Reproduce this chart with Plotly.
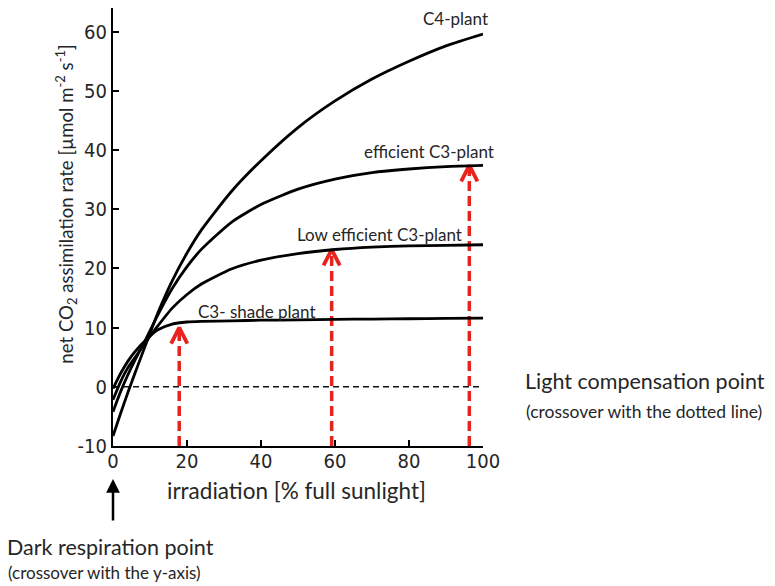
import plotly.graph_objects as go

# ---- data ----
irradiation = [0, 2, 4, 6, 9, 12, 16, 20, 24, 32, 40, 50, 60, 70, 80, 90, 100]
c4_plant = [-8.3, -4.6, -1.0, 2.4, 7.4, 12.3, 17.9, 22.6, 26.6, 33.0, 38.2, 43.8, 48.3, 52.0, 55.0, 57.6, 59.6]
eff_c3 = [-4.2, -0.9, 2.0, 4.6, 8.2, 12.0, 16.6, 20.3, 23.3, 27.8, 30.8, 33.4, 35.1, 36.2, 36.8, 37.2, 37.4]
low_c3 = [-2.2, 0.8, 3.2, 5.0, 7.7, 10.2, 13.3, 15.6, 17.4, 19.9, 21.4, 22.5, 23.2, 23.6, 23.8, 23.9, 24.0]
shade_c3 = [-0.3, 2.2, 4.3, 6.0, 8.0, 9.6, 10.6, 10.95, 11.05, 11.15, 11.25, 11.3, 11.4, 11.45, 11.5, 11.55, 11.6]

curve_names = ["C4-plant", "efficient C3-plant", "Low efficient C3-plant", "C3- shade plant"]
curve_values = [c4_plant, eff_c3, low_c3, shade_c3]
label_x = [92.6, 85.4, 72.0, 38.7]
label_y = [62.3, 39.8, 25.8, 12.8]

arrow_x = [17.9, 59.1, 96.3]
arrow_tip = [10.0, 23.2, 37.4]

x_ticks = [0, 20, 40, 60, 80, 100]
y_ticks = [-10, 0, 10, 20, 30, 40, 50, 60]
y_ticktext = ["-10", "0", "10", "20", "30", "40", "50", "60"]

RED = "#e8221d"
TXT = "#262626"
LABEL_FONT = "Lato, Carlito, Open Sans, sans-serif"
TICK_FONT = "Liberation Sans Narrow, DejaVu Sans Condensed, Liberation Sans, sans-serif"

fig = go.Figure()

# zero (light compensation) line
fig.add_trace(go.Scatter(x=[0, 100], y=[0, 0], mode="lines",
                         line=dict(color="#111", width=1.5, dash="6px,4px"),
                         hoverinfo="skip", showlegend=False))

# red dashed arrows
for ax_, tip in zip(arrow_x, arrow_tip):
    fig.add_trace(go.Scatter(x=[ax_, ax_], y=[-10, tip - 0.4], mode="lines",
                             line=dict(color=RED, width=3.5, dash="10px,5px"),
                             hoverinfo="skip", showlegend=False))
    fig.add_trace(go.Scatter(x=[ax_ - 2.2, ax_, ax_ + 2.2], y=[tip - 2.7, tip, tip - 2.7],
                             mode="lines", line=dict(color=RED, width=3.8),
                             hoverinfo="skip", showlegend=False))

# curves
for name, vals in zip(curve_names, curve_values):
    fig.add_trace(go.Scatter(x=irradiation, y=vals, mode="lines", name=name,
                             line=dict(color="black", width=2.8, shape="spline", smoothing=0.6),
                             showlegend=False))

# curve labels
for name, lx, ly in zip(curve_names, label_x, label_y):
    fig.add_annotation(x=lx, y=ly, text=name, showarrow=False,
                       xanchor="center", yanchor="middle",
                       font=dict(family=LABEL_FONT, size=17, color=TXT))

# axis titles as annotations (positioned like the reference)
fig.add_annotation(xref="paper", yref="paper", x=-0.127, y=0.551, textangle=-90,
                   xanchor="center", yanchor="middle",
                   text="net CO<sub>2</sub> assimilation rate [µmol m<sup>-2</sup> s<sup>-1</sup>]",
                   showarrow=False, font=dict(family=LABEL_FONT, size=18.6, color=TXT))
fig.add_annotation(xref="paper", yref="paper", x=0.497, y=-0.1025,
                   xanchor="center", yanchor="middle",
                   text="irradiation [% full sunlight]",
                   showarrow=False, font=dict(family=LABEL_FONT, size=22.5, color=TXT))

# dark respiration point
fig.add_annotation(xref="x", yref="paper", x=0, y=-0.0752, ax=0, ay=43,
                   text="", showarrow=True, arrowhead=2, arrowsize=1.1,
                   arrowwidth=2.5, arrowcolor="black")
fig.add_annotation(xref="paper", yref="paper", x=-0.292, y=-0.2306,
                   xanchor="left", yanchor="middle",
                   text="Dark respiration point", showarrow=False,
                   font=dict(family=LABEL_FONT, size=21.5, color=TXT))
fig.add_annotation(xref="paper", yref="paper", x=-0.29, y=-0.2877,
                   xanchor="left", yanchor="middle",
                   text="(crossover with the y-axis)", showarrow=False,
                   font=dict(family=LABEL_FONT, size=17, color=TXT))

# light compensation point
fig.add_annotation(xref="x", yref="y", x=102.7, y=0.5, ax=29, ay=0,
                   text="", showarrow=True, arrowhead=2, arrowsize=1.1,
                   arrowwidth=2.5, arrowcolor="black")
fig.add_annotation(xref="paper", yref="paper", x=1.108, y=0.148,
                   xanchor="left", yanchor="middle",
                   text="Light compensation point", showarrow=False,
                   font=dict(family=LABEL_FONT, size=21.5, color=TXT))
fig.add_annotation(xref="paper", yref="paper", x=1.1115, y=0.0797,
                   xanchor="left", yanchor="middle",
                   text="(crossover with the dotted line)", showarrow=False,
                   font=dict(family=LABEL_FONT, size=17.5, color=TXT))

fig.update_layout(
    width=775, height=586,
    margin=dict(l=105, r=300, t=0, b=148, autoexpand=False),
    paper_bgcolor="white", plot_bgcolor="white",
    showlegend=False,
    xaxis=dict(range=[0, 100], tickvals=x_ticks, showgrid=False, zeroline=False,
               showline=True, linecolor="black", linewidth=2, ticks="inside",
               ticklen=6, tickwidth=1.5, tickcolor="black", ticklabelstandoff=-4,
               tickfont=dict(family=TICK_FONT, size=20, color=TXT)),
    yaxis=dict(range=[-10, 64], tickvals=y_ticks, ticktext=y_ticktext, showgrid=False,
               zeroline=False, showline=True, linecolor="black", linewidth=2,
               ticks="inside", ticklen=6, tickwidth=1.5, tickcolor="black",
               tickfont=dict(family=TICK_FONT, size=20, color=TXT)),
)

fig.write_html("out.html")
